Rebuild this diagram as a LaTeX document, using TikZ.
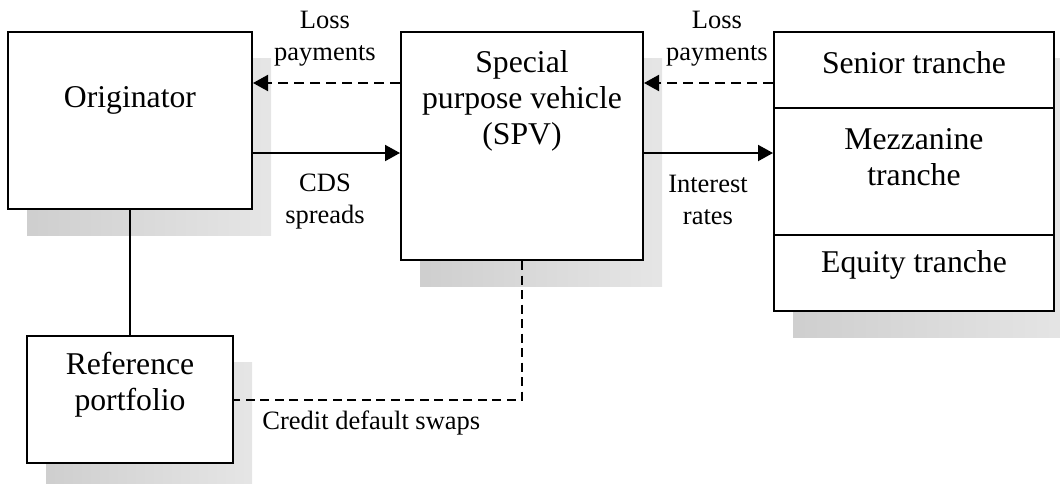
\documentclass[tikz,border=0pt]{standalone}
\usepackage{fontspec}
\setmainfont{Liberation Serif}
\usetikzlibrary{arrows.meta,positioning}

\tikzset{
  box/.style={draw, fill=white, line width=1pt, inner sep=0pt},
  shadowfill/.style={left color=black!19, right color=black!10},
  boxtext/.style={align=center, inner sep=0pt, font=\fontsize{15.85}{18}\selectfont},
  lbl/.style={align=center, inner sep=0pt, font=\fontsize{13.25}{16}\selectfont},
  flow/.style={line width=1pt, -{Triangle[length=7.5pt,width=8pt]}},
  lossflow/.style={flow, dash pattern=on 5pt off 3pt},
  swapline/.style={line width=1pt, dash pattern=on 4.5pt off 2.75pt}
}

\begin{document}
\begin{tikzpicture}[x=0.5pt, y=-0.5pt]
			\useasboundingbox (0,0) rectangle (1060,483);

			% Kästen (erst Schatten, dann Rahmen)
			\coordinate (origC) at (130,120.5);
			\coordinate (spvC) at (522,146);
			\coordinate (trancheC) at (914,171.5);
			\coordinate (refC) at (130,399.5);
			\shade[shadowfill] ([shift={(19,26)}]origC) ++(-122,-88.5) rectangle ++(244,177);
			\shade[shadowfill] ([shift={(19,26)}]spvC) ++(-121,-114) rectangle ++(242,228);
			\shade[shadowfill] ([shift={(19,26)}]trancheC) ++(-140,-139.5) rectangle ++(280,279);
			\shade[shadowfill] ([shift={(19,26)}]refC) ++(-103,-63.5) rectangle ++(206,127);

			\node[box, minimum width=122pt, minimum height=88.5pt] (orig) at (origC) {};
			\node[box, minimum width=121pt, minimum height=114pt] (spv) at (spvC) {};
			\node[box, minimum width=140pt, minimum height=139.5pt] (tranche) at (trancheC) {};
			\node[box, minimum width=103pt, minimum height=63.5pt] (ref) at (refC) {};

			% Trennlinien der Tranchen
			\draw[line width=1pt] (tranche.west |- 0,108) -- (tranche.east |- 0,108);
			\draw[line width=1pt] (tranche.west |- 0,235) -- (tranche.east |- 0,235);

			% Beschriftung der Kästen
			\node[boxtext] (origtxt) at (130,100) {Originator};
			\node[boxtext] (spvtxt) at (522,101) {Special\\purpose vehicle\\(SPV)};
			\node[boxtext] (senior) at (914,63) {Senior tranche};
			\node[boxtext] (mezz) at (914,157.5) {Mezzanine\\tranche};
			\node[boxtext] (equity) at (914,265) {Equity tranche};
			\node[boxtext] (reftxt) at (130,385) {Reference\\portfolio};

			% Zahlungsströme
			\draw[lossflow] (spv.west |- 0,83) -- (orig.east |- 0,83);
			\draw[flow] (orig.east |- 0,153) -- (spv.west |- 0,153);
			\draw[lossflow] (tranche.west |- 0,83) -- (spv.east |- 0,83);
			\draw[flow] (spv.east |- 0,153) -- (tranche.west |- 0,153);
			\draw[line width=1pt] (orig.south) -- (ref.north);
			\draw[swapline] (spv.south) |- (ref.east);

			% Beschriftung der Pfeile
			\node[lbl] (lossL) at (325,39) {Loss\\payments};
			\node[lbl] (cds) at (325,202) {CDS\\spreads};
			\node[lbl] (lossR) at (717,39) {Loss\\payments};
			\node[lbl] (rates) at (708,200) {Interest\\rates};
			\node[lbl, anchor=west] (swaps) at (262,423) {Credit default swaps};

		\end{tikzpicture}
\end{document}
